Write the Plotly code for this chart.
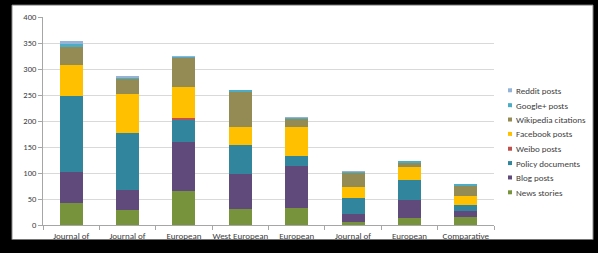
import plotly.graph_objects as go

categories = ["Journal of", "Journal of", "European", "West European", "European",
              "Journal of", "European", "Comparative"]
news_stories = [43, 29, 66, 30, 32, 6, 14, 15]
blog_posts = [59, 38, 94, 68, 82, 15, 35, 11]
policy_documents = [146, 110, 43, 55, 18, 30, 38, 13]
weibo_posts = [0, 0, 2, 0, 0, 0, 0, 0]
facebook_posts = [60, 74, 61, 35, 56, 22, 24, 17]
wikipedia_citations = [35, 30, 56, 69, 16, 27, 10, 19]
google_plus_posts = [6, 3, 2, 1, 2, 2, 1, 2]
reddit_posts = [5, 2, 1, 0, 1, 1, 0, 0]
y_ticks = [0, 50, 100, 150, 200, 250, 300, 350, 400]

series = [
    ("News stories", news_stories, "#77933C"),
    ("Blog posts", blog_posts, "#604A7B"),
    ("Policy documents", policy_documents, "#31859C"),
    ("Weibo posts", weibo_posts, "#C0504D"),
    ("Facebook posts", facebook_posts, "#FFC000"),
    ("Wikipedia citations", wikipedia_citations, "#948A54"),
    ("Google+ posts", google_plus_posts, "#4BACC6"),
    ("Reddit posts", reddit_posts, "#95B3D7"),
]

xs = list(range(len(categories)))
FONT = "Calibri, Carlito, Lato, sans-serif"
TXT = "#404040"

fig = go.Figure()
for name, vals, color in series:
    fig.add_trace(go.Bar(x=xs, y=vals, name=name, marker=dict(color=color, line=dict(width=0)),
                         width=0.41, showlegend=False))

# geometry (pixels)
L, R, T, B = 43, 494, 16, 226
W, H = R - L, B - T

def px_x(p):
    return (p - L) / W

def px_y(p):
    return (B - p) / H

shapes = [dict(type="rect", xref="paper", yref="paper", layer="below",
               x0=px_x(12), x1=px_x(593), y0=px_y(241), y1=px_y(4),
               fillcolor="white", line=dict(color="#8C8C8C", width=1)),
          dict(type="rect", xref="paper", yref="paper", layer="above",
               x0=px_x(0), x1=px_x(598), y0=px_y(253), y1=px_y(241),
               fillcolor="black", line=dict(width=0))]
annotations = []
leg_y = [90, 105, 119.5, 134, 149, 163.5, 178, 193]
for (name, vals, color), yc in zip(reversed(series), leg_y):
    shapes.append(dict(type="rect", xref="paper", yref="paper", xsizemode="pixel", ysizemode="pixel",
                       xanchor=px_x(510), yanchor=px_y(yc), x0=-2, x1=2, y0=-2, y1=2,
                       fillcolor=color, line=dict(width=0)))
    annotations.append(dict(xref="paper", yref="paper", x=px_x(514), y=px_y(yc), text=name,
                            showarrow=False, xanchor="left", yanchor="middle",
                            font=dict(family=FONT, size=9, color=TXT)))

fig.update_layout(
    width=598, height=253,
    margin=dict(l=L, r=598 - R, t=T, b=253 - B),
    paper_bgcolor="black", plot_bgcolor="rgba(0,0,0,0)",
    barmode="stack", bargap=0.59,
    shapes=shapes, annotations=annotations,
    font=dict(family=FONT, size=8, color=TXT),
)
fig.update_xaxes(range=[-0.5, len(categories) - 0.5], tickvals=xs, ticktext=categories,
                 showline=True, linecolor="#A6A6A6", linewidth=1, showgrid=False,
                 ticks="", ticklabelstandoff=2,
                 tickfont=dict(family=FONT, size=9, color=TXT),
                 minor=dict(tickvals=[i - 0.5 for i in range(len(categories) + 1)],
                            ticks="outside", ticklen=4, tickcolor="#A6A6A6"),
                 fixedrange=True)
fig.update_yaxes(range=[0, 400], tickvals=y_ticks, showline=True, linecolor="#A6A6A6",
                 linewidth=1, showgrid=True, gridcolor="#D9D9D9", gridwidth=1,
                 ticks="outside", ticklen=4, tickcolor="#A6A6A6", zeroline=False,
                 tickfont=dict(family=FONT, size=8.5, color=TXT), fixedrange=True)

fig.write_html("out.html", config={"displayModeBar": False},
               post_script="document.body.style.margin='0';document.body.style.background='black';")
